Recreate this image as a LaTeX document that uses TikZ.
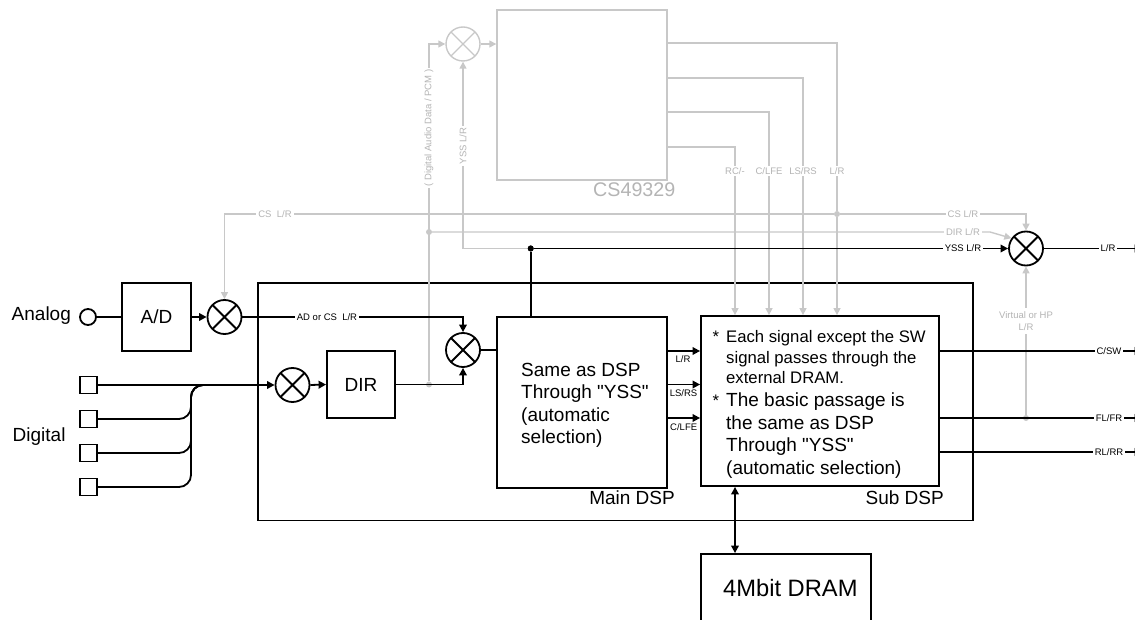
\documentclass[tikz,border=0pt]{standalone}
\usepackage{fontspec}
\setmainfont{Liberation Sans}[Ligatures=TeXOff]
\usetikzlibrary{arrows.meta,calc}
\definecolor{gl}{RGB}{200,200,200}
\definecolor{gt}{RGB}{180,180,180}
\begin{document}
\begin{tikzpicture}[x=1pt,y=-1pt,
  blk/.style={line width=1.8pt, draw=black},
  gry/.style={line width=1.4pt, draw=gl},
  tip/.style={-{Triangle[length=7.5pt,width=7.5pt]}},
  gtip/.style={-{Triangle[length=7pt,width=7pt]}},
  dtip/.style={{Triangle[length=7.5pt,width=7.5pt]}-{Triangle[length=7.5pt,width=7.5pt]}},
  box/.style={draw, line width=1.8pt, rectangle, inner sep=0pt},
  mixer/.style={draw, circle, line width=1.8pt, minimum size=34pt, inner sep=0pt,
    path picture={\draw[line width=1.8pt] (path picture bounding box.north west) -- (path picture bounding box.south east) (path picture bounding box.north east) -- (path picture bounding box.south west);}},
  gmixer/.style={draw=gl, circle, line width=1.4pt, minimum size=34pt, inner sep=0pt,
    path picture={\draw[gl, line width=1.4pt] (path picture bounding box.north west) -- (path picture bounding box.south east) (path picture bounding box.north east) -- (path picture bounding box.south west);}},
  big/.style={font=\fontsize{19}{22.5}\selectfont, inner sep=0pt},
  mid/.style={font=\fontsize{16.7}{20}\selectfont, inner sep=0pt},
  boxtxt/.style={font=\fontsize{19}{22.5}\selectfont, text height=13.6pt, text depth=0pt},
  lbl/.style={font=\fontsize{9.5}{12}\selectfont, inner sep=2pt, fill=white},
  glbl/.style={lbl, text=gt},
  dot/.style={circle, fill, inner sep=0pt, minimum size=6pt},
  gdot/.style={circle, fill=gl, inner sep=0pt, minimum size=6pt}
]
\useasboundingbox (0,0) rectangle (1135,620);

% ---------------- nodes ----------------
\node[draw=gl, line width=1.4pt, rectangle, minimum width=170pt, minimum height=170pt, inner sep=0pt] (cs) at (582,95) {};
\node[anchor=base west, text=gt, font=\fontsize{19.7}{23}\selectfont, inner sep=0pt] (cslbl) at (593,197) {CS49329};
\node[gmixer] (mixT) at (463,44) {};

\node[box, minimum width=715pt, minimum height=237.5pt] (outer) at (615.5,401.75) {};
\node[draw, circle, line width=1.8pt, minimum size=16pt, inner sep=0pt] (an) at (88,317) {};
\node[anchor=base west, big] (analog) at (11.5,320) {Analog};
\node[anchor=base west, big] (digital) at (12.5,441.7) {Digital};
\node[box, minimum width=69pt, minimum height=68pt, boxtxt] (ad) at (156.5,317) {A/D};
\node[mixer] (mixA) at (224.5,317) {};
\node[mixer] (mixB) at (463,350) {};
\node[mixer] (mixD) at (292.5,385) {};
\node[box, minimum width=68pt, minimum height=67pt, boxtxt] (dir) at (361,384.5) {DIR};
\node[box, minimum size=17pt] (s1) at (88.5,385) {};
\node[box, minimum size=17pt] (s2) at (88.5,419) {};
\node[box, minimum size=17pt] (s3) at (88.5,453) {};
\node[box, minimum size=17pt] (s4) at (88.5,487) {};

\node[box, minimum width=170pt, minimum height=171pt] (main) at (582,402.5) {};
\node[anchor=base west, big] (m1) at (521,376) {Same as DSP};
\node[anchor=base west, big] (m2) at (521,398.5) {Through "YSS"};
\node[anchor=base west, big] (m3) at (521,421) {(automatic};
\node[anchor=base west, big] (m4) at (521,443.5) {selection)};
\node[anchor=base east, big] (mainlbl) at (675,504) {Main DSP};

\node[box, minimum width=238pt, minimum height=170pt] (sub) at (820,401) {};
\node[anchor=base west, mid] (st1) at (712.5,342.7) {*};
\node[anchor=base west, mid] (t1) at (726,342.7) {Each signal except the SW};
\node[anchor=base west, mid] (t2) at (726,363.3) {signal passes through the};
\node[anchor=base west, mid] (t3) at (726,383.6) {external DRAM.};
\node[anchor=base west, mid] (st2) at (712.5,406.7) {*};
\node[anchor=base west, big] (t4) at (726,406.7) {The basic passage is};
\node[anchor=base west, big] (t5) at (726,429.2) {the same as DSP};
\node[anchor=base west, big] (t6) at (726,451.7) {Through "YSS"};
\node[anchor=base west, big] (t7) at (726,474.2) {(automatic selection)};
\node[anchor=base east, big] (sublbl) at (944,504) {Sub DSP};

\node[box, minimum width=170pt, minimum height=92pt] (dram) at (786,600) {};
\node[anchor=base west, font=\fontsize{23.7}{28}\selectfont, inner sep=0pt] (dramlbl) at (723,596) {4Mbit DRAM};

\node[mixer] (mixR) at (1026,248.5) {};

\node[dot] (dY) at (530.7,248.5) {};
\node[gdot] (dDIR) at (429,232) {};
\node[gdot] (dDA) at (429,384.5) {};
\node[gdot] (dCS) at (837,214) {};
\node[gdot] (dV) at (1026,418) {};

\coordinate (o1) at (667,43);
\coordinate (o2) at (667,78);
\coordinate (o3) at (667,112);
\coordinate (o4) at (667,147);
\coordinate (e1) at (1142,248.5);
\coordinate (e2) at (1142,351);
\coordinate (e3) at (1142,418);
\coordinate (e4) at (1142,452);

\coordinate (vLR) at (837,171);
\coordinate (vLS) at (803,171);
\coordinate (vC) at (769,171);
\coordinate (vRC) at (735,171);

% ---------------- gray connectors ----------------
\draw[gry] (o1) -| (vLR) -- (dCS);
\draw[gry, gtip] (dCS) -- (dCS |- sub.north);
\draw[gry, gtip] (o2) -| (vLS) -- (vLS |- sub.north);
\draw[gry, gtip] (o3) -| (vC) -- (vC |- sub.north);
\draw[gry, gtip] (o4) -| (vRC) -- (vRC |- sub.north);
\draw[gry, gtip] (mixT.east) -- (mixT.east -| cs.west);
\draw[gry, gtip] (dDA) -- (429,44) -- (mixT.west);
\draw[gry, gtip] (dY) -- (463,248.5) -- (mixT.south);
\draw[gry, gtip] (dCS) -- (224.5,214) -- (mixA.north);
\draw[gry, gtip] (dCS) -| (mixR.north);
\draw[gry, gtip] (dDIR) -- (990,232) -- (mixR.145);
\draw[gry, gtip] (dV) -- (mixR.south);

% ---------------- black connectors ----------------
\draw[blk] (an.east) -- (ad.west);
\draw[blk, tip] (ad.east) -- (mixA.west);
\draw[blk, tip] (mixA.east) -- (463,317) -- (mixB.north);
\draw[blk, tip] (s1.east) -- (mixD.west);
\draw[blk, rounded corners=12pt] (s2.east) -- (191,419) -- (191,385) -- (225,385);
\draw[blk, rounded corners=12pt] (s3.east) -- (191,453) -- (191,385) -- (225,385);
\draw[blk, rounded corners=12pt] (s4.east) -- (191,487) -- (191,385) -- (225,385);
\draw[blk, tip] (mixD.east) -- (dir.west);
\draw[blk, tip] (dir.east) -- (463,384.5) -- (mixB.south);
\draw[blk] (mixB.east) -- (mixB.east -| main.west);
\draw[blk] (main.north -| dY) -- (dY);
\draw[blk, tip] (dY) -- (mixR.west);
\draw[blk, tip] (mixR.east) -- (e1);
\draw[blk, tip] (main.east |- 0,351) -- (sub.west |- 0,351);
\draw[blk, tip] (main.east |- 0,384.5) -- (sub.west |- 0,384.5);
\draw[blk, tip] (main.east |- 0,418) -- (sub.west |- 0,418);
\draw[blk, tip] (sub.east |- e2) -- (e2);
\draw[blk, tip] (sub.east |- e3) -- (e3);
\draw[blk, tip] (sub.east |- e4) -- (e4);
\draw[blk, dtip] (sub.south -| 735,0) -- (dram.north -| 735,0);
\node[dot] at (dY) {};

% ---------------- labels on lines ----------------
\node[glbl] (lRC) at (vRC) {RC/-};
\node[glbl] (lC) at (vC) {C/LFE};
\node[glbl] (lLS) at (vLS) {LS/RS};
\node[glbl] (lLR) at (vLR) {L/R};
\node[glbl, rotate=90] (lDA) at (429,128) {( Digital Audio Data / PCM )};
\node[glbl, rotate=90] (lYSS) at (463,146) {YSS L/R};
\node[glbl] (lCS1) at (275,214) {CS\ \ L/R};
\node[glbl] (lCS2) at (963,214) {CS L/R};
\node[glbl] (lDIR) at (963,232) {DIR L/R};
\node[lbl] (lYSS2) at (963,248.5) {YSS L/R};
\node[lbl] (lout) at (1108,248.5) {L/R};
\node[glbl, align=center, font=\fontsize{9.5}{12.5}\selectfont, inner sep=3pt] (lV) at (1026,321) {Virtual or HP\\L/R};
\node[lbl] (lAD) at (327,317) {AD or CS\ \ L/R};
\node[lbl, fill=none] (lm1) at (683,359) {L/R};
\node[lbl, fill=none] (lm2) at (683.5,393) {LS/RS};
\node[lbl, fill=none] (lm3) at (683.7,427) {C/LFE};
\node[lbl] (lo2) at (1109,351) {C/SW};
\node[lbl] (lo3) at (1109,418) {FL/FR};
\node[lbl] (lo4) at (1109,452) {RL/RR};
\end{tikzpicture}
\end{document}
